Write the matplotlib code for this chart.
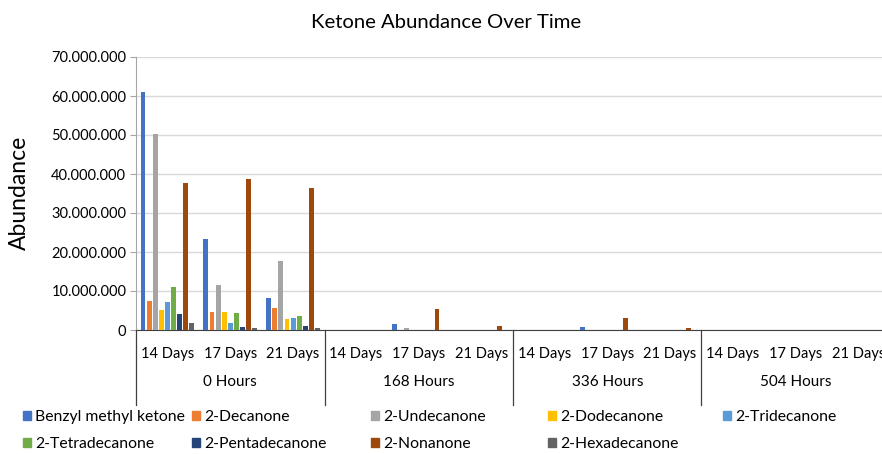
import numpy as np
import matplotlib.pyplot as plt
import matplotlib.transforms as mtransforms
from matplotlib.ticker import FuncFormatter
from matplotlib.patches import Patch

plt.rcParams['font.family'] = ['Lato', 'DejaVu Sans']

hours = ['0 Hours', '168 Hours', '336 Hours', '504 Hours']
days = ['14 Days', '17 Days', '21 Days']

series = ['Benzyl methyl ketone', '2-Decanone', '2-Undecanone', '2-Dodecanone',
          '2-Tridecanone', '2-Tetradecanone', '2-Pentadecanone', '2-Nonanone',
          '2-Hexadecanone']
colors = ['#4472C4', '#ED7D31', '#A5A5A5', '#FFC000', '#5B9BD5', '#70AD47',
          '#264478', '#9E480E', '#636363']

# values in millions, 12 categories (hour x day)
benzyl = [60.9, 23.3, 8.1, 0, 1.5, 0, 0, 0.85, 0, 0, 0, 0]
decanone = [7.5, 4.5, 5.7, 0, 0, 0, 0, 0, 0, 0, 0, 0]
undecanone = [50.3, 11.5, 17.6, 0, 0.6, 0.05, 0, 0.05, 0, 0, 0, 0]
dodecanone = [5.1, 4.5, 2.9, 0, 0, 0, 0, 0, 0, 0, 0, 0]
tridecanone = [7.1, 1.9, 3.1, 0, 0, 0, 0, 0, 0, 0, 0, 0]
tetradecanone = [10.9, 4.4, 3.5, 0, 0, 0, 0, 0, 0, 0, 0, 0]
pentadecanone = [4.0, 0.7, 0.9, 0, 0, 0, 0, 0, 0, 0, 0, 0]
nonanone = [37.6, 38.7, 36.3, 0, 5.3, 1.1, 0, 3.2, 0.4, 0, 0, 0]
hexadecanone = [1.9, 0.5, 0.4, 0, 0, 0, 0, 0, 0, 0, 0, 0]

data = [benzyl, decanone, undecanone, dodecanone, tridecanone, tetradecanone,
        pentadecanone, nonanone, hexadecanone]

fig = plt.figure(figsize=(8.82, 4.54), dpi=100)
ax = fig.add_axes([136 / 882, 124 / 454, 754 / 882, 273 / 454])

n = len(hours) * len(days)
x = np.arange(n)
step = 0.097
width = 0.078
for i, (vals, c) in enumerate(zip(data, colors)):
    offs = (i - (len(series) - 1) / 2) * step
    ax.bar(x + offs, np.array(vals) * 1e6, width=width, color=c, zorder=3)

ax.set_xlim(-0.5, n - 0.5)
ax.set_ylim(0, 70e6)
ax.set_yticks(np.arange(0, 70e6 + 1, 10e6))
ax.yaxis.set_major_formatter(FuncFormatter(lambda v, p: f'{int(v):,}'.replace(',', '.')))
ax.grid(axis='y', color='#d9d9d9', linewidth=1, zorder=0)
ax.tick_params(axis='y', labelsize=10.5, length=4, color='#a6a6a6', pad=3)
for s in ['top', 'right']:
    ax.spines[s].set_visible(False)
ax.spines['left'].set_color('#a6a6a6')
ax.spines['bottom'].set_color('#404040')

ax.set_xticks(x)
ax.set_xticklabels(days * len(hours), fontsize=10.5)
ax.tick_params(axis='x', length=0, pad=12)

# second level of the category axis
trans = mtransforms.blended_transform_factory(ax.transData, ax.transAxes)
sep = -75 / 273
for k in range(len(hours) + 1):
    xs = k * len(days) - 0.5
    ax.plot([xs, xs], [0, sep], transform=trans, color='#404040', lw=0.9, clip_on=False)
for k, h in enumerate(hours):
    ax.text(k * len(days) + 1, -52 / 273, h, transform=trans, ha='center',
            va='center', fontsize=11)

fig.text(19 / 882, 1 - 193 / 454, 'Abundance', rotation=90, ha='center',
         va='center', fontsize=16.5)
fig.text(446 / 882, 1 - 22 / 454, 'Ketone Abundance Over Time', ha='center',
         va='center', fontsize=14.6)

# legend: one column at a time, Excel-like even spacing
col_x = [23, 192, 371, 548, 723]
for ci in range(5):
    idx = [j for j in (ci, ci + 5) if j < len(series)]
    handles = [Patch(color=colors[j], label=series[j]) for j in idx]
    fig.legend(handles=handles, loc='upper left',
               bbox_to_anchor=(col_x[ci] / 882, 1 - 410 / 454), frameon=False,
               fontsize=11.3, handlelength=0.5, handleheight=0.5,
               handletextpad=0.25, labelspacing=0.85, borderaxespad=0, borderpad=0)

fig.savefig('out.png', dpi=100)
